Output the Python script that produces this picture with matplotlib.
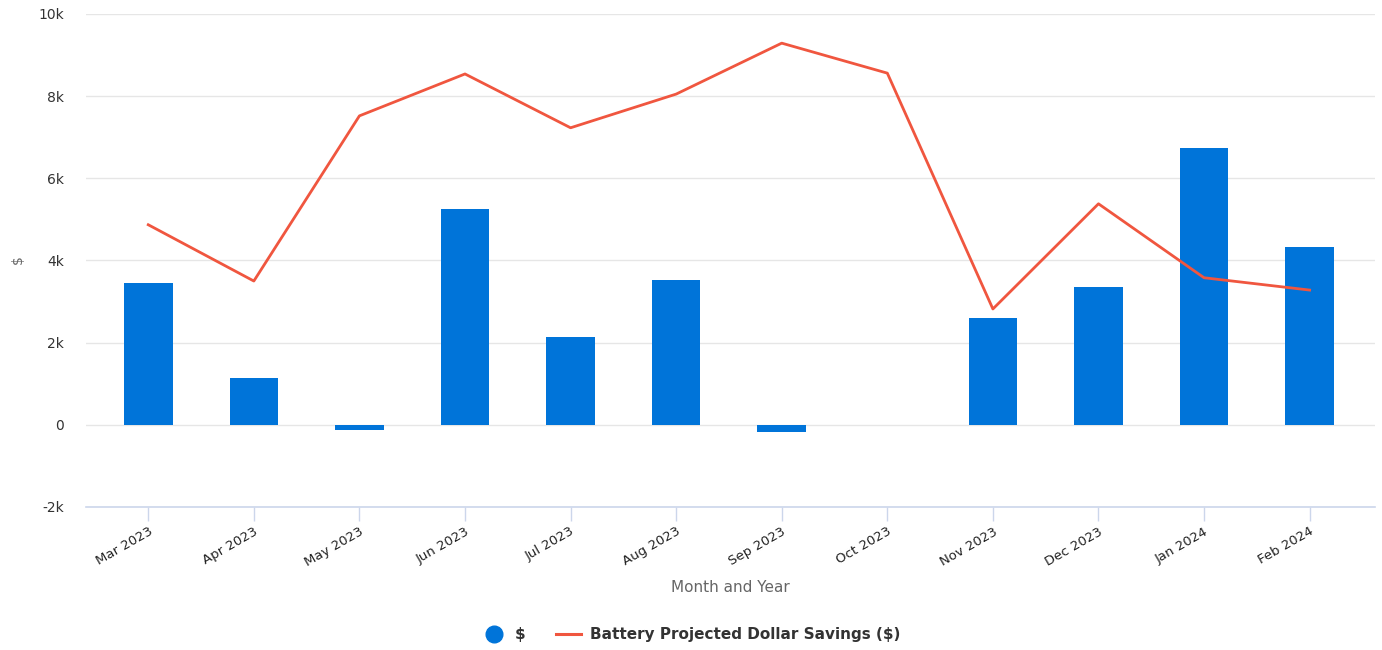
import matplotlib
matplotlib.use("Agg")
import matplotlib.pyplot as plt
from matplotlib.lines import Line2D
import numpy as np

months = ["Mar 2023", "Apr 2023", "May 2023", "Jun 2023", "Jul 2023", "Aug 2023",
          "Sep 2023", "Oct 2023", "Nov 2023", "Dec 2023", "Jan 2024", "Feb 2024"]
bar_values = [3450, 1140, -130, 5260, 2140, 3530, -170, 0, 2600, 3360, 6740, 4330]
line_values = [4870, 3500, 7520, 8540, 7230, 8050, 9290, 8560, 2820, 5380, 3580, 3280]
y_ticks = [-2000, 0, 2000, 4000, 6000, 8000, 10000]
y_tick_labels = ["-2k", "0", "2k", "4k", "6k", "8k", "10k"]

bar_color = "#0074d9"
line_color = "#f0563f"

plt.rcParams['font.family'] = ['DejaVu Sans']
fig = plt.figure(figsize=(13.82, 6.5), dpi=100)
ax = fig.add_axes([0.0622, 0.22, 0.9328, 0.7585])

x = np.arange(len(months))
ax.bar(x, bar_values, width=0.46, color=bar_color, zorder=2)
ax.plot(x, line_values, color=line_color, linewidth=2.0, zorder=3)

ax.set_xlim(-0.59, 11.62)
ax.set_ylim(-2000, 10000)
ax.set_yticks(y_ticks)
ax.set_yticklabels(y_tick_labels, fontsize=10, color="#333333")
ax.yaxis.grid(True, color="#e6e6e6", linewidth=1, zorder=0)
ax.tick_params(axis="y", length=0, pad=16)

ax.set_xticks(x)
ax.set_xticklabels(months, rotation=30, ha="right", rotation_mode="anchor",
                   fontsize=9.5, color="#222222")
ax.tick_params(axis="x", length=10, color="#ccd6eb", width=1, pad=3)

for s in ["top", "right", "left"]:
    ax.spines[s].set_visible(False)
ax.spines["bottom"].set_color("#ccd6eb")
ax.spines["bottom"].set_linewidth(1.2)

ax.set_xlabel("Month and Year", fontsize=11, color="#666666", labelpad=8)
fig.text(0.013, 0.6, "$", rotation=90, fontsize=10, color="#666666",
         ha="center", va="center")

handles = [
    Line2D([0], [0], marker="o", color="none", markerfacecolor=bar_color,
           markeredgecolor=bar_color, markersize=12),
    Line2D([0], [0], color=line_color, linewidth=2.2),
]
leg = fig.legend(handles, ["$", "Battery Projected Dollar Savings ($)"],
                 loc="center", bbox_to_anchor=(0.5, 0.024), ncol=2, frameon=False,
                 prop={"weight": "bold", "size": 11}, handlelength=1.6,
                 columnspacing=2.0, handletextpad=0.6)
for t in leg.get_texts():
    t.set_color("#333333")

fig.savefig("out.png", dpi=100)
